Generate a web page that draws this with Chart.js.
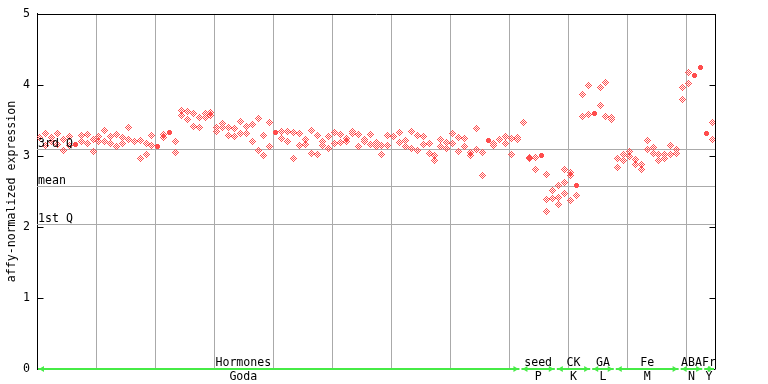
<!DOCTYPE html>
<html><head><meta charset="utf-8">
<script src="https://cdn.jsdelivr.net/npm/chart.js@4"></script>
<style>html,body{margin:0;padding:0;background:#fff}canvas{display:block}</style>
</head><body>
<canvas id="c" width="768" height="384"></canvas>
<script>
// ---- data ----
const yTicks = [0, 1, 2, 3, 4, 5];
// hollow-diamond replicate values per sample column (null = none)
const repA = [
  3.26, 3.32, 3.26, 3.32, 3.235, 3.28, null, 3.29, 3.305, 3.235,
  3.28, 3.36, 3.28, 3.305, 3.26, 3.40, 3.21, 3.22, 3.18, 3.29,
  null, 3.305, null, 3.21, 3.64, 3.63, 3.60, 3.545, 3.60, 3.615,
  3.40, 3.46, 3.40, 3.39, 3.49, 3.42, 3.45, 3.53, 3.29, 3.47,
  null, 3.34, 3.34, 3.33, 3.32, 3.235, 3.36, 3.29, 3.21, 3.28,
  3.33, 3.305, 3.24, 3.34, 3.305, 3.225, 3.305, 3.19, 3.15, 3.29,
  3.28, 3.33, 3.22, 3.35, 3.29, 3.28, 3.18, 3.00, 3.235, 3.19,
  3.32, 3.26, 3.25, 3.05, 3.39, 3.05, null, 3.18, 3.235, 3.28,
  3.25, 3.26, 3.465, 2.98, 2.98, null, 2.74, 2.52, 2.59, 2.81,
  2.77, null, 3.87, 3.99, null, 3.97, 4.04, 3.54, 2.97, 3.02,
  3.07, 2.95, 2.88, 3.22, 3.12, 3.02, 3.02, 3.15, 3.09, 3.97,
  4.18, null, null, null, 3.47
];
const repB = [
  null, 3.15, 3.21, 3.16, 3.08, 3.15, null, 3.21, 3.18, 3.07,
  3.21, 3.21, 3.18, 3.14, 3.18, 3.235, null, 2.97, 3.02, 3.15,
  null, 3.26, null, 3.05, 3.575, 3.52, 3.42, 3.40, 3.545, 3.575,
  3.35, 3.40, 3.29, 3.28, 3.32, 3.32, 3.21, 3.08, 3.00, 3.14,
  null, 3.25, 3.21, 2.97, 3.15, 3.165, 3.04, 3.02, 3.15, 3.11,
  3.18, 3.19, 3.21, 3.31, 3.14, 3.20, 3.165, 3.14, 3.02, 3.15,
  null, 3.19, 3.14, 3.11, 3.08, 3.165, 3.04, 2.94, 3.14, 3.11,
  3.18, 3.07, 3.14, 3.00, 3.09, 2.73, null, 3.15, null, 3.18,
  3.02, 3.235, null, 2.96, 2.81, null, 2.39, 2.40, 2.42, 2.63,
  2.73, 2.45, 3.56, 3.59, null, 3.71, 3.56, 3.51, 2.84, 2.94,
  2.99, 2.88, 2.81, 3.09, 3.04, 2.94, 2.97, 3.02, 3.04, 3.80,
  4.02, null, null, null, 3.235
];
const extraCols = [86, 88, 89, 90];
const extraVals = [2.225, 2.31, 2.47, 2.38];
// solid-diamond samples
const filledCols = [6, 20, 22, 40, 76, 85, 91, 94, 111, 112, 113];
const filledVals = [3.165, 3.14, 3.335, 3.33, 3.215, 3.00, 2.58, 3.595, 4.13, 4.24, 3.31];
// reference lines
const quantNames = ['3rd Q', 'mean', '1st Q'];
const quantVals = [3.097, 2.577, 2.03];
// sample groups along the bottom
const groupTop = ['Hormones', 'seed', 'CK', 'GA', 'Fe', 'ABA', 'Fr'];
const groupBottom = ['Goda', 'P', 'K', 'L', 'M', 'N', 'Y'];
const groupFirst = [0, 82, 88, 94, 98, 109, 113];
const groupLast = [81, 87, 93, 97, 108, 112, 114];
const groupLabelCol = [34.5, null, null, null, null, null, null];

// ---- build ----
const nCols = repA.length;
function pts(cols, vals) { const o = []; cols.forEach((c, i) => { if (vals[i] != null) o.push({x: c, y: vals[i]}); }); return o; }
const idx = repA.map((_, i) => i);
const hollow = pts(idx, repA).concat(pts(idx, repB), pts(extraCols, extraVals));
const solid = pts(filledCols, filledVals);

const RED = 'rgb(255,77,77)';
function sprite(rows, color) {
  const c = document.createElement('canvas');
  c.width = rows[0].length; c.height = rows.length;
  const g = c.getContext('2d'); g.fillStyle = color;
  rows.forEach((r, y) => { for (let x = 0; x < r.length; x++) if (r[x] === 'X') g.fillRect(x, y, 1, 1); });
  return c;
}
const hollowSprite = sprite([
  '...X...',
  '..X.X..',
  '.X.X.X.',
  'X.X.X.X',
  '.X.X.X.',
  '..X.X..',
  '...X...'], RED);
const solidSprite = sprite([
  '.XXX.',
  'XXXXX',
  'XXXXX',
  'XXXXX',
  '.XXX.'], RED);

const FONT = 'DejaVu Sans Mono';
const GREEN = 'rgb(70,235,70)';

const deco = {
  id: 'deco',
  beforeDatasetsDraw(chart) {
    const {ctx, chartArea: a, scales: {x, y}} = chart;
    ctx.save();
    ctx.strokeStyle = '#aaaaaa'; ctx.lineWidth = 1;
    for (let k = 10; k < nCols; k += 10) {
      const px = Math.floor(x.getPixelForValue(k - 0.5) + 0.5) + 0.5;
      ctx.beginPath(); ctx.moveTo(px, a.top); ctx.lineTo(px, a.bottom); ctx.stroke();
    }
    quantVals.forEach(v => {
      const py = Math.floor(y.getPixelForValue(v)) + 0.5;
      ctx.beginPath(); ctx.moveTo(a.left, py); ctx.lineTo(a.right, py); ctx.stroke();
    });
    ctx.restore();
    ctx.imageSmoothingEnabled = false;
  },
  afterDatasetsDraw(chart) {
    const {ctx, chartArea: a, scales: {x, y}} = chart;
    ctx.save();
    // frame
    ctx.strokeStyle = '#000'; ctx.lineWidth = 1;
    const top = Math.round(a.top) + 0.5, right = Math.round(a.right) + 0.5, left = Math.round(a.left) + 0.5;
    ctx.beginPath(); ctx.moveTo(left - 0.5, top); ctx.lineTo(right + 0.5, top); ctx.stroke();
    ctx.beginPath(); ctx.moveTo(right, top); ctx.lineTo(right, a.bottom); ctx.stroke();
    yTicks.forEach(t => {
      const py = Math.round(y.getPixelForValue(t)) + 0.5;
      ctx.beginPath(); ctx.moveTo(left, py); ctx.lineTo(left + 6, py); ctx.stroke();
      ctx.beginPath(); ctx.moveTo(right - 6, py); ctx.lineTo(right, py); ctx.stroke();
    });
    // quantile labels
    ctx.fillStyle = '#000';
    ctx.font = '11.6px "' + FONT + '"';
    ctx.textAlign = 'left'; ctx.textBaseline = 'alphabetic';
    quantVals.forEach((v, i) => {
      const py = Math.floor(y.getPixelForValue(v));
      ctx.fillText(quantNames[i], a.left + 1, py - 2);
    });
    // group bars
    const gy = a.bottom;
    groupFirst.forEach((f, i) => {
      const x0 = x.getPixelForValue(f - 0.5) + 1;
      const x1 = x.getPixelForValue(groupLast[i] + 0.5) - 1;
      ctx.strokeStyle = GREEN; ctx.fillStyle = GREEN; ctx.lineWidth = 2;
      ctx.beginPath(); ctx.moveTo(x0, gy); ctx.lineTo(x1, gy); ctx.stroke();
      ctx.beginPath(); ctx.moveTo(x0 + 1, gy); ctx.lineTo(x0 + 6, gy - 3); ctx.lineTo(x0 + 6, gy + 3); ctx.closePath(); ctx.fill();
      ctx.beginPath(); ctx.moveTo(x1 - 1, gy); ctx.lineTo(x1 - 6, gy - 3); ctx.lineTo(x1 - 6, gy + 3); ctx.closePath(); ctx.fill();
      const lc = groupLabelCol[i] != null ? groupLabelCol[i] : (f + groupLast[i]) / 2;
      const cx = x.getPixelForValue(lc);
      ctx.fillStyle = '#000'; ctx.textAlign = 'center';
      ctx.fillText(groupTop[i], cx, gy - 3);
      ctx.fillText(groupBottom[i], cx, gy + 11);
    });
    ctx.restore();
  }
};

new Chart(document.getElementById('c'), {
  type: 'scatter',
  data: {
    datasets: [
      {data: hollow, pointStyle: hollowSprite, pointRadius: 3.5, pointHoverRadius: 3.5, backgroundColor: RED, borderColor: RED},
      {data: solid, pointStyle: solidSprite, pointRadius: 2.5, pointHoverRadius: 2.5, backgroundColor: RED, borderColor: RED}
    ]
  },
  options: {
    responsive: false, animation: false, devicePixelRatio: 1,
    layout: {padding: {left: 0, top: 13, right: 53, bottom: 15}},
    plugins: {legend: {display: false}, tooltip: {enabled: false}},
    events: [],
    scales: {
      x: {type: 'linear', min: -0.5, max: nCols - 0.5, display: false},
      y: {
        min: 0, max: 5,
        afterBuildTicks(s) { s.ticks = yTicks.map(v => ({value: v})); },
        ticks: {color: '#000', font: {family: FONT, size: 11.6}, padding: 7},
        grid: {display: false, drawTicks: false},
        border: {display: true, color: '#000', width: 1},
        title: {display: true, text: 'affy-normalized expression', color: '#000', font: {family: FONT, size: 11.6}, padding: {top: 5, bottom: 0}},
        afterFit(s) { s.width = 37; }
      }
    }
  },
  plugins: [deco]
});
</script>
</body></html>
